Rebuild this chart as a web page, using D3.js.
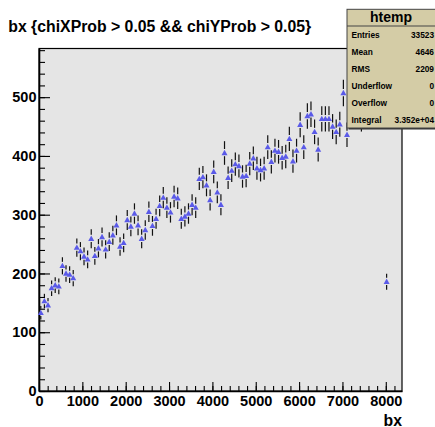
<!DOCTYPE html>
<html>
<head>
<meta charset="utf-8">
<script src="https://cdn.jsdelivr.net/npm/d3@7"></script>
<style>
body { margin: 0; background: #fff; }
svg { display: block; font-family: "Liberation Sans", Arial, Helvetica, sans-serif; font-weight: bold; }
</style>
</head>
<body>
<svg id="chart" width="435" height="427"></svg>
<script>
// histogram contents, one value per bin (bins start at 0)
var binCounts = [
    133, 153, 146, 175, 180, 178, 213, 200, 198, 192,
    244, 238, 229, 224, 259, 230, 243, 262, 241, 254,
    265, 282, 246, 252, 291, 280, 302, 282, 259, 274,
    305, 281, 293, 315, 329, 312, 304, 331, 328, 293,
    297, 302, 317, 312, 361, 364, 350, 325, 373, 338,
    317, 405, 363, 375, 386, 383, 365, 366, 387, 396,
    379, 376, 379, 415, 390, 409, 407, 397, 399, 429,
    391, 409, 453, 415, 468, 471, 441, 411, 463, 463,
    463, 450, 441, 454, 507, 436, 505, 520, 515, 463,
    525, 532, 518, 510, 522, 500, 186
];
var binWidth = 83.1;
var xRange = [0, 8374];
var xMajorTicks = [0, 1000, 2000, 3000, 4000, 5000, 6000, 7000, 8000];
var yMajorTicks = [0, 100, 200, 300, 400, 500];
var titleText = 'bx {chiXProb > 0.05 && chiYProb > 0.05}';
var xTitle = 'bx';
var statsTitle = 'htemp';
var statsNames = ['Entries', 'Mean', 'RMS', 'Underflow', 'Overflow', 'Integral'];
var statsValues = ['33523', '4646', '2209', '0', '0', '3.352e+04'];

var frame = {left: 39, right: 402, top: 48.5, bottom: 391};
var svg = d3.select('#chart');

var x = d3.scaleLinear().domain(xRange).range([frame.left, frame.right]);
var yMax = d3.max(binCounts, function(d) { return d + Math.sqrt(d); }) * 1.05;
var y = d3.scaleLinear().domain([0, yMax]).range([frame.bottom, frame.top]);

// frame
svg.append('rect')
    .attr('x', frame.left)
    .attr('y', frame.top)
    .attr('width', frame.right - frame.left)
    .attr('height', frame.bottom - frame.top)
    .attr('fill', '#e5e5e5')
    .attr('stroke', '#000')
    .attr('stroke-width', 1.2);

// minor ticks
var yMinor = d3.range(0, yMax, 20);
var xMinor = d3.range(0, xRange[1], 200);

svg.append('g')
    .attr('transform', 'translate(' + frame.left + ',0)')
    .call(d3.axisLeft(y).tickValues(yMinor).tickSize(-6).tickFormat(''))
    .call(function(g) { g.select('.domain').remove(); });

svg.append('g')
    .attr('transform', 'translate(0,' + frame.bottom + ')')
    .call(d3.axisBottom(x).tickValues(xMinor).tickSize(-5).tickFormat(''))
    .call(function(g) { g.select('.domain').remove(); });

// major ticks + labels
var yAxis = svg.append('g')
    .attr('transform', 'translate(' + frame.left + ',0)')
    .call(d3.axisLeft(y).tickValues(yMajorTicks).tickSize(-11).tickSizeOuter(0)
        .tickPadding(2.5).tickFormat(d3.format('d')));

var xAxis = svg.append('g')
    .attr('transform', 'translate(0,' + frame.bottom + ')')
    .call(d3.axisBottom(x).tickValues(xMajorTicks).tickSize(-9).tickSizeOuter(0)
        .tickPadding(4.7).tickFormat(d3.format('d')));

svg.selectAll('.tick line').attr('stroke', '#000').attr('stroke-width', 1.1);
svg.selectAll('.domain').attr('stroke', '#000').attr('stroke-width', 1.6);
[xAxis, yAxis].forEach(function(a) {
    a.selectAll('text')
        .attr('fill', '#000')
        .style('font-size', '14.5px')
        .style('font-weight', 'bold')
        .style('font-family', '"Liberation Sans", Arial, sans-serif');
});

// data points
var points = binCounts.map(function(d, i) {
    return {x: (i + 0.5) * binWidth, v: d, e: Math.sqrt(d)};
}).filter(function(d) { return d.v > 0; });

var pts = svg.append('g')
    .selectAll('g.pt')
    .data(points)
    .join('g')
    .classed('pt', true)
    .attr('transform', function(d) { return 'translate(' + x(d.x) + ',' + y(d.v) + ')'; });

pts.append('line')
    .attr('y1', function(d) { return y(d.v + d.e) - y(d.v); })
    .attr('y2', -4)
    .attr('stroke', '#111')
    .attr('stroke-width', 1.2);

pts.append('line')
    .attr('y1', 3.2)
    .attr('y2', function(d) { return y(d.v - d.e) - y(d.v); })
    .attr('stroke', '#111')
    .attr('stroke-width', 1.2);

pts.append('path')
    .attr('d', 'M0,-3.2L3,2.2L-3,2.2Z')
    .attr('fill', '#5a5ae8');

// titles
svg.append('text')
    .attr('x', 8.3)
    .attr('y', 32)
    .style('font-size', '15.8px')
    .text(titleText);

svg.append('text')
    .attr('x', frame.right)
    .attr('y', 425.5)
    .attr('text-anchor', 'end')
    .style('font-size', '15.8px')
    .text(xTitle);

// stats box (runs off the right edge of the canvas)
var box = {x: 347, y: 9.3, w: 92, h: 118.7, head: 16.7};
var stats = svg.append('g');

stats.append('rect')
    .attr('x', box.x + 1.5)
    .attr('y', box.y + 1.5)
    .attr('width', box.w)
    .attr('height', box.h)
    .attr('fill', '#333');

stats.append('rect')
    .attr('x', box.x)
    .attr('y', box.y)
    .attr('width', box.w)
    .attr('height', box.h)
    .attr('fill', '#d4cca6')
    .attr('stroke', '#444')
    .attr('stroke-width', 1);

stats.append('line')
    .attr('x1', box.x)
    .attr('x2', box.x + box.w)
    .attr('y1', box.y + box.head)
    .attr('y2', box.y + box.head)
    .attr('stroke', '#444');

stats.append('text')
    .attr('x', 391)
    .attr('y', box.y + 12.7)
    .attr('text-anchor', 'middle')
    .style('font-size', '14px')
    .text(statsTitle);

var rowH = (box.h - box.head) / statsNames.length;
statsNames.forEach(function(name, i) {
    var cy = box.y + box.head + (i + 0.5) * rowH;
    stats.append('text')
        .attr('x', box.x + 4.5)
        .attr('y', cy + 3)
        .style('font-size', '8.3px')
        .text(name);
    stats.append('text')
        .attr('x', 434)
        .attr('y', cy + 3)
        .attr('text-anchor', 'end')
        .style('font-size', '8.3px')
        .text(statsValues[i]);
});
</script>
</body>
</html>
